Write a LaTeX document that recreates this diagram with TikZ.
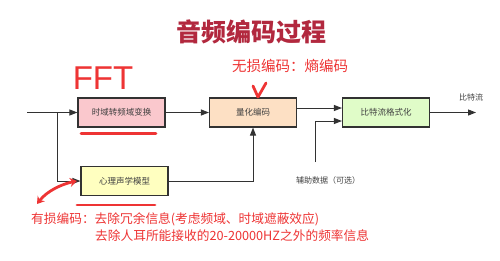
\documentclass[tikz,border=0pt]{standalone}
\usepackage{fontspec}
\setmainfont{Liberation Sans}
\newfontfamily\cjk{Noto Sans CJK SC}
\usetikzlibrary{arrows.meta}
\definecolor{boxline}{RGB}{50,50,50}
\definecolor{titlered}{RGB}{178,40,62}
\definecolor{annred}{RGB}{238,52,52}
\definecolor{fillA}{RGB}{250,200,205}
\definecolor{fillB}{RGB}{253,224,196}
\definecolor{fillC}{RGB}{224,252,200}
\definecolor{fillD}{RGB}{255,255,192}
\tikzset{
  blockbox/.style={draw=boxline, line width=1.1pt, minimum width=87pt, minimum height=29pt, inner sep=0pt, font=\cjk\fontsize{8.5}{10}\selectfont, text=black!75},
  conn/.style={draw=boxline, line width=1pt, -{Triangle[length=8pt,width=6pt]}},
  redmark/.style={draw=annred, line width=2.8pt, line cap=round, line join=round},
  smalllabel/.style={font=\cjk\fontsize{8}{10}\selectfont, text=black!75, inner sep=0pt},
  redtext/.style={font=\cjk\fontsize{12.7}{16}\selectfont, text=annred, inner sep=0pt, anchor=west}
}
\begin{document}
\begin{tikzpicture}[x=1pt,y=-1pt]
\useasboundingbox[fill=white] (0,0) rectangle (500,260);
% title
\node[font=\cjk\bfseries\fontsize{25}{28}\selectfont, text=titlered, inner sep=0pt] (title) at (251,32) {音频编码过程};
% blocks
\node[blockbox, fill=fillA] (box1) at (121.5,112.5) {时域转频域变换};
\node[blockbox, fill=fillB] (box2) at (253,112.5) {量化编码};
\node[blockbox, fill=fillC] (box3) at (386,112.5) {比特流格式化};
\node[blockbox, fill=fillD] (box4) at (124.5,181) {心理声学模型};
% helper coordinates
\coordinate (in) at (27,112.5);
\coordinate (br) at (57,112.5);
\coordinate (aux) at (315,162);
\coordinate (out) at (476,112.5);
% connectors
\draw[conn] (in) -- (box1.west);
\draw[conn] (br) |- (box4.west);
\draw[conn] (box1.east) -- (box2.west);
\draw[conn] ([yshift=4.5pt]box2.east) -- ([yshift=4.5pt]box3.west);
\draw[conn] (aux) |- ([yshift=-8.5pt]box3.west);
\draw[conn] (box4.east) -| (box2.south);
\draw[conn] (box3.east) -- (out);
% labels
\node[smalllabel] (lblout) at (471,97) {比特流};
\node[smalllabel] (lblaux) at (328,180) {辅助数据（可选）};
% red annotations
\node[font=\fontsize{33}{36}\selectfont, text=annred, inner sep=0pt] (fft) at (103,78) {FFT};
\node[redtext, font=\cjk\fontsize{14.5}{16}\selectfont] (lossless) at (232,66) {无损编码：熵编码};
\draw[redmark] (253,86) -- (258,97) -- (266,83);
\draw[redmark] (81,133.5) -- (156,133.5);
\draw[redmark] (77,205) -- (155,205);
\draw[redmark, {Stealth[length=7pt,width=9pt]}-{Stealth[length=7pt,width=9pt]}] (37,204) .. controls (47,191) and (62,184) .. (77,181);
\node[redtext] (lossy1) at (31,219) {有损编码：去除冗余信息(考虑频域、时域遮蔽效应)};
\node[redtext] (lossy2) at (95,236) {去除人耳所能接收的20-20000HZ之外的频率信息};
\end{tikzpicture}
\end{document}
